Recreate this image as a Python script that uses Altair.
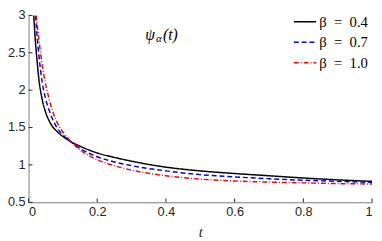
import altair as alt
import pandas as pd

# ---- data ----
labels = ["β\u2002=\u20020.4", "β\u2002=\u20020.7", "β\u2002=\u20021.0"]
colors = ["#000000", "#0000ff", "#ff0000"]
dashes = [[1, 0], [5, 3], [5, 2, 1, 2]]

t_a = [0.015, 0.02, 0.025, 0.03, 0.04, 0.05, 0.06, 0.07, 0.08, 0.1, 0.12, 0.15, 0.2, 0.25, 0.3, 0.4, 0.5, 0.6, 0.7, 0.8, 0.9, 1.0]
v_a = [3.0, 2.65, 2.38, 2.15, 1.87, 1.70, 1.59, 1.51, 1.46, 1.38, 1.32, 1.25, 1.16, 1.10, 1.05, 0.97, 0.92, 0.885, 0.855, 0.825, 0.80, 0.78]

t_b = [0.02, 0.025, 0.03, 0.04, 0.05, 0.06, 0.07, 0.08, 0.1, 0.12, 0.15, 0.2, 0.25, 0.3, 0.4, 0.5, 0.6, 0.7, 0.8, 0.9, 1.0]
v_b = [3.0, 2.72, 2.47, 2.10, 1.88, 1.73, 1.61, 1.52, 1.40, 1.32, 1.22, 1.11, 1.04, 0.99, 0.92, 0.87, 0.84, 0.815, 0.795, 0.78, 0.765]

t_c = [0.022, 0.025, 0.03, 0.04, 0.05, 0.06, 0.07, 0.08, 0.1, 0.12, 0.15, 0.2, 0.25, 0.3, 0.4, 0.5, 0.6, 0.7, 0.8, 0.9, 1.0]
v_c = [3.0, 2.88, 2.68, 2.33, 2.07, 1.88, 1.72, 1.60, 1.44, 1.33, 1.20, 1.07, 0.99, 0.93, 0.855, 0.81, 0.785, 0.77, 0.76, 0.75, 0.745]

x_ticks = [0, 0.2, 0.4, 0.6, 0.8, 1]
y_ticks = [0.5, 1.0, 1.5, 2.0, 2.5, 3.0]
y_tick_labels = ["0.5", "1", "1.5", "2", "2.5", "3"]

rows = []
for lab, ts, vs in zip(labels, [t_a, t_b, t_c], [v_a, v_b, v_c]):
    for i, (t, v) in enumerate(zip(ts, vs)):
        rows.append({"series": lab, "t": t, "v": v, "i": i})
df = pd.DataFrame(rows)

W, H = 351, 191
AX = "#262626"

xscale = alt.Scale(domain=[0, 1], nice=False, zero=False)
yscale = alt.Scale(domain=[0.5, 3], nice=False, zero=False)

x_axis = alt.Axis(values=x_ticks, format="~g", ticks=False, grid=False,
                  title="t", titleFont="Liberation Serif", titleFontStyle="italic",
                  titleFontWeight="normal", titleFontSize=15, titleColor=AX,
                  titlePadding=7, labelPadding=3, labelOverlap=False)
y_axis = alt.Axis(values=y_ticks, ticks=False, grid=False, title=None, labels=False)

lines = alt.Chart(df).mark_line(strokeWidth=1.5, clip=True, interpolate="monotone").encode(
    x=alt.X("t:Q", scale=xscale, axis=x_axis),
    y=alt.Y("v:Q", scale=yscale, axis=y_axis),
    color=alt.Color("series:N", scale=alt.Scale(domain=labels, range=colors), title=None),
    strokeDash=alt.StrokeDash("series:N", scale=alt.Scale(domain=labels, range=dashes), title=None),
    order="i:Q",
)

xt = pd.DataFrame({"t": x_ticks})
yt = pd.DataFrame({"v": y_ticks, "lab": y_tick_labels})
xticks = alt.Chart(xt).mark_rule(color=AX, strokeWidth=1).encode(
    x=alt.X("t:Q", scale=xscale, axis=x_axis), y=alt.value(H), y2=alt.value(H - 4))
yticks = alt.Chart(yt).mark_rule(color=AX, strokeWidth=1).encode(
    y=alt.Y("v:Q", scale=yscale, axis=y_axis), x=alt.value(0), x2=alt.value(4))
ylabels = alt.Chart(yt).mark_text(align="right", baseline="middle", dx=-3,
                                  font="Liberation Sans", fontSize=13, color=AX).encode(
    y=alt.Y("v:Q", scale=yscale, axis=y_axis), x=alt.value(0), text="lab:N")

ann_font = "Liberation Serif"
AX_T, AY_T = 0.34, 2.74
psi = alt.Chart().mark_text(text="ψ", font=ann_font, fontStyle="italic", fontSize=16,
                            align="left", baseline="middle", color="#000").encode(
    x=alt.datum(AX_T), y=alt.datum(AY_T))
alpha_ = alt.Chart().mark_text(text="α", font=ann_font, fontStyle="italic", fontSize=11,
                               align="left", baseline="middle", dx=11, dy=4, color="#000").encode(
    x=alt.datum(AX_T), y=alt.datum(AY_T))
par = alt.Chart().mark_text(text="(t)", font=ann_font, fontStyle="italic", fontSize=16,
                            align="left", baseline="middle", dx=18, color="#000").encode(
    x=alt.datum(AX_T), y=alt.datum(AY_T))

chart = alt.layer(lines, xticks, yticks, ylabels, psi, alpha_, par).properties(
    width=W, height=H,
    autosize=alt.AutoSizeParams(type="none"),
    padding={"left": 21, "top": 5, "right": 2, "bottom": 37},
).configure_view(stroke=None).configure_axis(
    domainColor="#7a7a7a", domainWidth=1,
    labelColor=AX, labelFont="Liberation Sans", labelFontSize=13,
    labelOverlap=False,
).configure_legend(
    orient="none", legendX=270, legendY=-6, padding=0,
    symbolType="stroke", symbolSize=520, symbolStrokeWidth=1.5,
    labelFont="Liberation Serif", labelFontSize=15, labelColor="#000",
    labelOffset=2, rowPadding=-1.5,
)

chart.save("out.html", embed_options={"renderer": "svg", "actions": False})
